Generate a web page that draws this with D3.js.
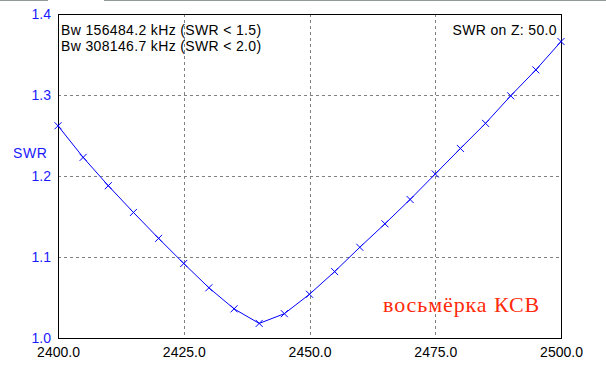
<!DOCTYPE html>
<html>
<head>
<meta charset="utf-8">
<script src="https://cdn.jsdelivr.net/npm/d3@7"></script>
<style>
  body { margin: 0; background: #fff; }
</style>
</head>
<body>
<div id="chart"></div>
<script>
// frequency, MHz
const freqs = [2400, 2405, 2410, 2415, 2420, 2425, 2430, 2435, 2440, 2445, 2450,
  2455, 2460, 2465, 2470, 2475, 2480, 2485, 2490, 2495, 2500];
const swr = [1.262, 1.223, 1.188, 1.155, 1.123, 1.092, 1.062, 1.036, 1.018, 1.030, 1.054,
  1.082, 1.112, 1.141, 1.171, 1.2025, 1.234, 1.265, 1.299, 1.331, 1.366];
const xTicks = [2400, 2425, 2450, 2475, 2500];
const yTicks = [1.0, 1.1, 1.2, 1.3, 1.4];
const infoLines = ["Bw 156484.2 kHz (SWR < 1.5)", "Bw 308146.7 kHz (SWR < 2.0)"];
const zLabel = "SWR on Z: 50.0";
const noteLabel = "восьмёрка КСВ";

const w = 606, h = 367;
const margin = { top: 14, right: 45, bottom: 29, left: 58 };
const sans = "Liberation Sans, Arial, sans-serif";

const svg = d3.select("#chart").append("svg")
  .attr("width", w).attr("height", h);

// window tab edge at the very top
svg.append("line").attr("x1", 0).attr("x2", 48).attr("y1", 0.5).attr("y2", 0.5)
  .attr("stroke", "#909a9a");
svg.append("line").attr("x1", 104).attr("x2", 606).attr("y1", 0.5).attr("y2", 0.5)
  .attr("stroke", "#909a9a");

const x = d3.scaleLinear().domain([2400, 2500]).range([margin.left, w - margin.right]);
const y = d3.scaleLinear().domain([1.0, 1.4]).range([h - margin.bottom, margin.top]);

// grid
svg.append("g").selectAll("line").data(xTicks.slice(1, -1)).enter().append("line")
  .attr("x1", d => Math.round(x(d)) + 0.5).attr("x2", d => Math.round(x(d)) + 0.5)
  .attr("y1", y(1.4)).attr("y2", y(1.0))
  .attr("stroke", "#808080").attr("stroke-dasharray", "3,3");
svg.append("g").selectAll("line").data(yTicks.slice(1, -1)).enter().append("line")
  .attr("x1", x(2400)).attr("x2", x(2500))
  .attr("y1", d => Math.round(y(d)) + 0.5).attr("y2", d => Math.round(y(d)) + 0.5)
  .attr("stroke", "#808080").attr("stroke-dasharray", "3,3");

// frame
svg.append("rect")
  .attr("x", x(2400) + 0.5).attr("y", y(1.4) + 0.5)
  .attr("width", x(2500) - x(2400)).attr("height", y(1.0) - y(1.4))
  .attr("fill", "none").attr("stroke", "#000");

// axes labels
const xAxis = d3.axisBottom(x).tickValues(xTicks).tickFormat(d3.format(".1f")).tickSize(0).tickPadding(9);
const gx = svg.append("g").attr("transform", `translate(0,${y(1.0)})`).call(xAxis);
gx.select(".domain").remove();
gx.selectAll("text").style("font-size", "14px").style("font-family", sans).attr("fill", "#000");

const yAxis = d3.axisLeft(y).tickValues(yTicks).tickFormat(d3.format(".1f")).tickSize(0).tickPadding(7);
const gy = svg.append("g").attr("transform", `translate(${x(2400)},0)`).call(yAxis);
gy.select(".domain").remove();
gy.selectAll("text").style("font-size", "14px").style("font-family", sans).attr("fill", "#1a1aff");

svg.append("text").attr("x", 13).attr("y", 158).text("SWR")
  .style("font-size", "14px").style("font-family", sans).style("letter-spacing", "0.6px")
  .attr("fill", "#1a1aff");

// curve
const pts = freqs.map((f, i) => [f, swr[i]]);
svg.append("path").datum(pts)
  .attr("d", d3.line().x(d => x(d[0])).y(d => y(d[1])))
  .attr("fill", "none").attr("stroke", "#0000ff").attr("stroke-width", 1);

svg.append("g").selectAll("path").data(pts).enter().append("path")
  .attr("d", d => {
    const cx = x(d[0]), cy = y(d[1]), s = 3.5;
    return `M${cx - s},${cy - s}L${cx + s},${cy + s}M${cx - s},${cy + s}L${cx + s},${cy - s}`;
  })
  .attr("stroke", "#0000ff").attr("stroke-width", 1);

// info text
svg.append("g").selectAll("text").data(infoLines).enter().append("text")
  .attr("x", 61).attr("y", (d, i) => 35 + i * 16)
  .style("font-size", "14px").style("font-family", sans).style("letter-spacing", "0.35px")
  .attr("fill", "#000").text(d => d);

svg.append("text").attr("x", 557).attr("y", 35).attr("text-anchor", "end")
  .style("font-size", "14px").style("font-family", sans).style("letter-spacing", "0.35px")
  .attr("fill", "#000").text(zLabel);

svg.append("text").attr("x", 383).attr("y", 312)
  .style("font-family", "Liberation Serif, Times New Roman, serif")
  .style("font-size", "22px").style("letter-spacing", "0.9px")
  .attr("fill", "#ff2a0a").text(noteLabel);
</script>
</body>
</html>
